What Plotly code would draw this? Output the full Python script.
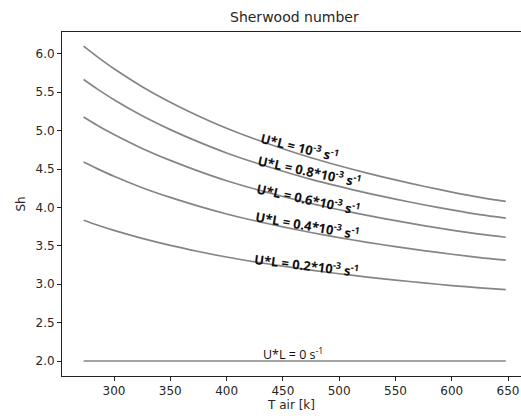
import plotly.graph_objects as go

# Air temperature [K]
T_air = [273, 285, 300, 325, 350, 375, 400, 425, 450, 475, 500, 525, 550, 575, 600, 625, 648]

# Sherwood number for each U*L value
sh_ul_1_0 = [6.100, 5.963, 5.805, 5.572, 5.370, 5.191, 5.030, 4.890, 4.764, 4.647, 4.542, 4.446, 4.358, 4.276, 4.200, 4.131, 4.078]
sh_ul_0_8 = [5.665, 5.543, 5.402, 5.193, 5.013, 4.853, 4.709, 4.584, 4.471, 4.366, 4.273, 4.187, 4.108, 4.035, 3.967, 3.905, 3.860]
sh_ul_0_6 = [5.178, 5.071, 4.949, 4.768, 4.612, 4.473, 4.348, 4.240, 4.142, 4.051, 3.970, 3.896, 3.827, 3.764, 3.705, 3.652, 3.612]
sh_ul_0_4 = [4.591, 4.505, 4.405, 4.257, 4.130, 4.017, 3.915, 3.826, 3.747, 3.673, 3.607, 3.546, 3.490, 3.438, 3.390, 3.347, 3.315]
sh_ul_0_2 = [3.833, 3.771, 3.701, 3.597, 3.506, 3.426, 3.354, 3.292, 3.236, 3.183, 3.136, 3.093, 3.054, 3.017, 2.983, 2.953, 2.930]
sh_ul_0_0 = [2.00] * len(T_air)

series = [sh_ul_1_0, sh_ul_0_8, sh_ul_0_6, sh_ul_0_4, sh_ul_0_2, sh_ul_0_0]

# Curve labels: text, anchor (T, Sh), rotation
label_texts = [
    "<b>U*L = 10<sup>-3</sup> s<sup>-1</sup></b>",
    "<b>U*L = 0.8*10<sup>-3</sup> s<sup>-1</sup></b>",
    "<b>U*L = 0.6*10<sup>-3</sup> s<sup>-1</sup></b>",
    "<b>U*L = 0.4*10<sup>-3</sup> s<sup>-1</sup></b>",
    "<b>U*L = 0.2*10<sup>-3</sup> s<sup>-1</sup></b>",
    "U*L = 0 s<sup>-1</sup>",
]
label_T = [465, 474, 473, 472, 471, 459]
label_Sh = [4.79, 4.48, 4.12, 3.78, 3.26, 2.09]
label_angle = [14, 12, 12, 10, 7, 0]
label_size = [13, 13, 13, 13, 13, 12.5]

fig = go.Figure()
for ys in series:
    fig.add_trace(go.Scatter(
        x=T_air, y=ys, mode="lines",
        line=dict(color="#858585", width=1.7, shape="spline", smoothing=0.8),
        showlegend=False, hoverinfo="skip",
    ))

for txt, tx, sy, ang, fs in zip(label_texts, label_T, label_Sh, label_angle, label_size):
    fig.add_annotation(
        x=tx, y=sy, xref="x", yref="y", text=txt, showarrow=False,
        textangle=ang, font=dict(family="Open Sans", size=fs, color="#111111"),
    )

axis_font = dict(family="DejaVu Sans", size=12, color="#262626")

fig.add_annotation(
    text="Sherwood number", xref="paper", yref="paper",
    x=0.5065, y=1.0, yshift=15, xanchor="center", yanchor="middle",
    showarrow=False, font=dict(family="DejaVu Sans", size=14, color="#262626"),
)

fig.update_layout(
    width=521, height=419,
    margin=dict(l=62, r=0, t=32, b=43),
    paper_bgcolor="white", plot_bgcolor="white",
    font=axis_font,
)

fig.update_xaxes(
    range=[253.8, 661.5], tickvals=[300, 350, 400, 450, 500, 550, 600, 650],
    showgrid=False, zeroline=False, showline=True, linecolor="#222222", linewidth=1,
    mirror=True, ticks="outside", ticklen=4, tickcolor="#222222",
    tickfont=axis_font,
    title=dict(text="T air [k]", font=axis_font, standoff=3),
)
fig.update_yaxes(
    range=[1.805, 6.284], tickvals=[2.0, 2.5, 3.0, 3.5, 4.0, 4.5, 5.0, 5.5, 6.0],
    tickformat=".1f",
    showgrid=False, zeroline=False, showline=True, linecolor="#222222", linewidth=1,
    mirror=False, ticks="outside", ticklen=4, tickcolor="#222222",
    tickfont=axis_font,
    title=dict(text="Sh", font=axis_font, standoff=7),
)

fig.write_html("out.html")
